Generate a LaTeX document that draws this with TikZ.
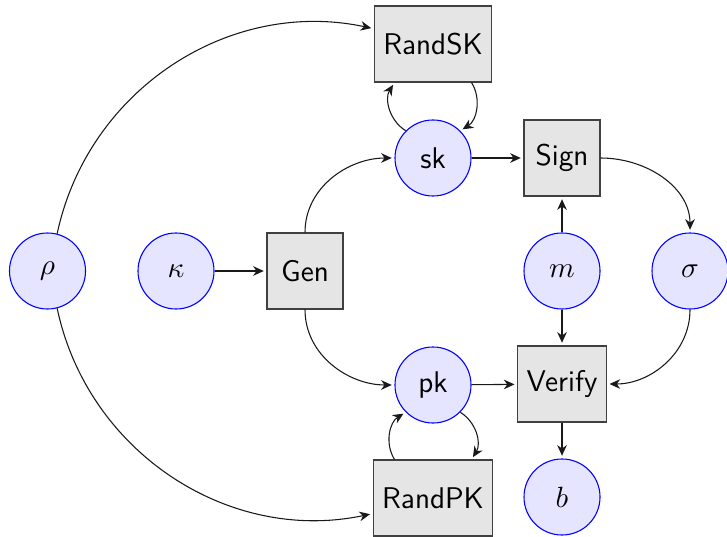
\documentclass[tikz,border=0pt]{standalone}
\usetikzlibrary{arrows.meta}
\begin{document}
\begin{tikzpicture}[x=0.013158cm, y=-0.013158cm,
  every node/.style={font=\sffamily\fontsize{11.2}{13}\selectfont},
  var/.style={circle, draw=blue, fill=blue!10, minimum size=1cm, inner sep=0pt},
  algo/.style={rectangle, draw=black!75, fill=black!10, minimum size=1cm},
  flow/.style={-{Stealth[length=4pt,width=3.6pt,inset=1.3pt]}, shorten >=1pt, black!90},
]
\useasboundingbox (0,0) rectangle (727,536);

% inputs and values
\node[var] (rho)   at (47.5,271) {$\rho$};
\node[var] (kappa) at (176,271) {$\kappa$};
\node[var] (sk)    at (433,158) {sk};
\node[var] (pk)    at (433,385) {pk};
\node[var] (m)     at (562,271) {$m$};
\node[var] (sigma) at (690,271) {$\sigma$};
\node[var] (b)     at (562,497) {$b$};

% algorithms
\node[algo] (gen)    at (305,271) {Gen};
\node[algo] (randsk) at (433,44)  {RandSK};
\node[algo] (randpk) at (433,498) {RandPK};
\node[algo] (sign)   at (562,158) {Sign};
\node[algo] (verify) at (562,384) {Verify};

% key generation
\draw[flow] (kappa) -- (gen);
\draw[flow] (gen.north) to[out=90,in=180] (sk.west);
\draw[flow] (gen.south) to[out=-90,in=180] (pk.west);

% re-randomisation
\draw[flow] (rho) to[bend left=45] (randsk);
\draw[flow] (rho) to[bend right=45] (randpk);
\draw[flow] (sk) to[bend left=45] (randsk);
\draw[flow] (randsk) to[bend left=45] (sk);
\draw[flow] (pk) to[bend left=45] (randpk);
\draw[flow] (randpk) to[bend left=45] (pk);

% signing and verification
\draw[flow] (sk) -- (sign);
\draw[flow] (m) -- (sign);
\draw[flow] (sign.east) to[out=0,in=90] (sigma.north);
\draw[flow] (pk) -- (verify);
\draw[flow] (m) -- (verify);
\draw[flow] (sigma.south) to[out=-90,in=0] (verify.east);
\draw[flow] (verify) -- (b);
\end{tikzpicture}
\end{document}
